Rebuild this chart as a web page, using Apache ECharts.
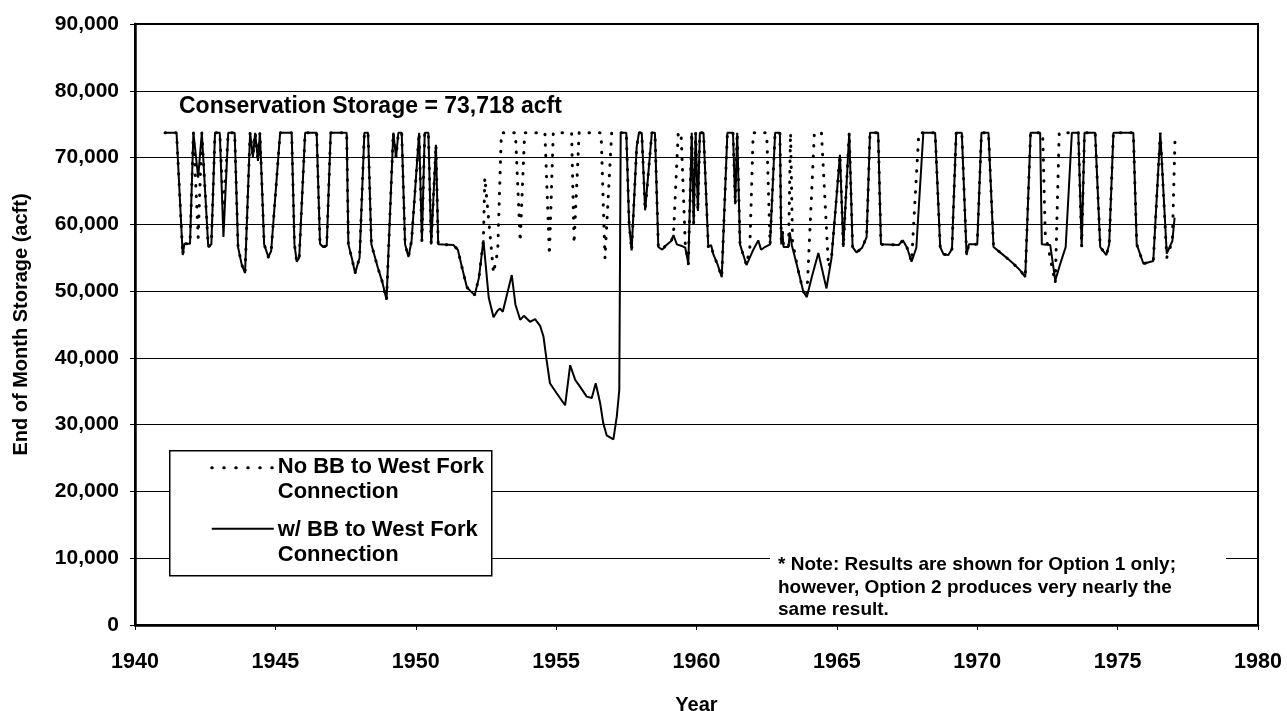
<!DOCTYPE html>
<html>
<head>
<meta charset="utf-8">
<title>End of Month Storage</title>
<script src="https://cdn.jsdelivr.net/npm/echarts@6/dist/echarts.min.js"></script>
<style>
  html, body { margin: 0; padding: 0; background: #fff; }
  #storage-chart { width: 1287px; height: 711px; }
</style>
</head>
<body>
<div id="storage-chart"></div>
<script>
// conservation storage
var CONS = 73718;

var seriesNames = ['No BB to West Fork\nConnection', 'w/ BB to West Fork\nConnection'];
var yTicks = [0, 10000, 20000, 30000, 40000, 50000, 60000, 70000, 80000, 90000];
var xTicks = [1940, 1945, 1950, 1955, 1960, 1965, 1970, 1975, 1980];
var consLabel = 'Conservation Storage = 73,718 acft';
var noteLines = [
  '* Note: Results are shown for Option 1 only;',
  'however, Option 2 produces very nearly the',
  'same result.'
];

// w/ BB to West Fork (solid)  [year, acft]
var withBB = [
  [1941.07, CONS], [1941.48, CONS], [1941.70, 55400], [1941.76, 57100], [1941.96, 57100],
  [1942.08, CONS], [1942.25, 67000], [1942.38, CONS], [1942.45, CONS], [1942.61, 56600],
  [1942.72, 57000], [1942.85, CONS], [1943.02, CONS], [1943.15, 58100], [1943.32, CONS],
  [1943.55, CONS], [1943.67, 56600], [1943.80, 54000], [1943.92, 52700], [1944.10, CONS],
  [1944.20, 70100], [1944.28, CONS], [1944.38, 69500], [1944.45, CONS], [1944.60, 57000],
  [1944.75, 55100], [1944.85, 56000], [1945.17, CONS], [1945.58, CONS], [1945.68, 57000],
  [1945.76, 54400], [1945.85, 55000], [1946.06, CONS], [1946.47, CONS], [1946.59, 57100],
  [1946.70, 56600], [1946.83, 56800], [1946.97, CONS], [1947.54, CONS], [1947.60, 57000],
  [1947.72, 55000], [1947.84, 52700], [1948.00, 55000], [1948.17, CONS], [1948.30, CONS],
  [1948.42, 57000], [1948.65, 53500], [1948.80, 51500], [1948.96, 48700], [1949.20, CONS],
  [1949.30, 70000], [1949.38, CONS], [1949.50, CONS], [1949.62, 57000], [1949.74, 55100],
  [1949.85, 57500], [1950.12, CONS], [1950.22, 57500], [1950.32, CONS], [1950.45, CONS],
  [1950.55, 57000], [1950.72, 71900], [1950.80, 57000], [1950.87, 56900], [1951.34, 56900],
  [1951.50, 56200], [1951.65, 53500], [1951.82, 50600], [1951.95, 50000], [1952.10, 49400],
  [1952.25, 52000], [1952.41, 57600], [1952.60, 49000], [1952.77, 46100], [1952.90, 47000],
  [1953.00, 47400], [1953.10, 46900], [1953.42, 52400], [1953.55, 48000], [1953.72, 45700],
  [1953.85, 46300], [1954.07, 45400], [1954.25, 45800], [1954.43, 44800], [1954.55, 43200],
  [1954.66, 39700], [1954.78, 36200], [1955.02, 34700], [1955.32, 32900], [1955.50, 38900],
  [1955.68, 36700], [1955.85, 35700], [1956.09, 34200], [1956.27, 34000], [1956.41, 36200],
  [1956.57, 33200], [1956.68, 30200], [1956.80, 28400], [1957.04, 27800], [1957.16, 31200],
  [1957.25, 35200], [1957.30, CONS], [1957.50, CONS], [1957.60, 60000], [1957.69, 56100],
  [1957.87, 71600], [1957.95, CONS], [1958.05, CONS], [1958.17, 62100], [1958.41, CONS],
  [1958.52, CONS], [1958.64, 56600], [1958.78, 56200], [1958.90, 56800], [1959.10, 57500],
  [1959.18, 58400], [1959.30, 57000], [1959.45, 56800], [1959.60, 56500], [1959.71, 54100],
  [1959.83, CONS], [1959.90, 60000], [1959.97, CONS], [1960.05, 62000], [1960.12, CONS],
  [1960.25, CONS], [1960.42, 56600], [1960.52, 56900], [1960.60, 55500], [1960.75, 54000],
  [1960.90, 52100], [1961.10, CONS], [1961.30, CONS], [1961.38, 63000], [1961.45, CONS],
  [1961.55, 57000], [1961.78, 53900], [1962.00, 56000], [1962.20, 57600], [1962.30, 56200],
  [1962.40, 56500], [1962.62, 57000], [1962.80, CONS], [1962.97, CONS], [1963.02, 57000],
  [1963.06, 59000], [1963.10, 56600], [1963.28, 56600], [1963.32, 58800], [1963.40, 56800],
  [1963.60, 53500], [1963.80, 50000], [1963.93, 49100], [1964.10, 52000], [1964.34, 55700],
  [1964.63, 50400], [1964.81, 55000], [1965.11, 70400], [1965.23, 56600], [1965.44, CONS],
  [1965.56, 56600], [1965.70, 55800], [1965.90, 56500], [1966.06, 58100], [1966.18, CONS],
  [1966.47, CONS], [1966.57, 57000], [1967.20, 56900], [1967.35, 57600], [1967.50, 56500],
  [1967.66, 54400], [1967.83, 56500], [1968.08, CONS], [1968.50, CONS], [1968.68, 56600],
  [1968.80, 55500], [1968.97, 55400], [1969.10, 56300], [1969.25, CONS], [1969.45, CONS],
  [1969.62, 55400], [1969.70, 57000], [1970.00, 57000], [1970.15, CONS], [1970.40, CONS],
  [1970.58, 56600], [1970.90, 55500], [1971.10, 54800], [1971.29, 54100], [1971.53, 53100],
  [1971.71, 52100], [1971.90, CONS], [1972.24, CONS], [1972.30, 57000], [1972.60, 56900],
  [1972.78, 51600], [1972.95, 54000], [1973.15, 56600], [1973.37, CONS], [1973.60, CONS],
  [1973.72, 56600], [1973.82, CONS], [1974.20, CONS], [1974.38, 56600], [1974.60, 55400],
  [1974.70, 57000], [1974.85, CONS], [1975.56, CONS], [1975.68, 57000], [1975.92, 54100],
  [1976.27, 54500], [1976.52, CONS], [1976.75, 55600], [1976.95, 57500], [1977.03, 61000]
];

// No BB to West Fork (dotted)  [year, acft]
var noBB = [
  [1941.07, CONS], [1941.48, CONS], [1941.70, 55400], [1941.76, 57100], [1941.96, 57100],
  [1942.08, CONS], [1942.25, 58000], [1942.38, CONS], [1942.45, CONS], [1942.61, 56600],
  [1942.72, 57000], [1942.85, CONS], [1943.02, CONS], [1943.15, 61700], [1943.32, CONS],
  [1943.55, CONS], [1943.67, 56600], [1943.80, 54000], [1943.92, 52700], [1944.10, CONS],
  [1944.20, 70100], [1944.28, CONS], [1944.38, 69500], [1944.45, CONS], [1944.60, 57000],
  [1944.75, 55100], [1944.85, 56000], [1945.17, CONS], [1945.58, CONS], [1945.68, 57000],
  [1945.76, 54400], [1945.85, 55000], [1946.06, CONS], [1946.47, CONS], [1946.59, 57100],
  [1946.70, 56600], [1946.83, 56800], [1946.97, CONS], [1947.54, CONS], [1947.60, 57000],
  [1947.72, 55000], [1947.84, 52700], [1948.00, 55000], [1948.17, CONS], [1948.30, CONS],
  [1948.42, 57000], [1948.65, 53500], [1948.80, 51500], [1948.96, 48700], [1949.20, CONS],
  [1949.30, 70000], [1949.38, CONS], [1949.50, CONS], [1949.62, 57000], [1949.74, 55100],
  [1949.85, 57500], [1950.12, CONS], [1950.22, 57500], [1950.32, CONS], [1950.45, CONS],
  [1950.55, 57000], [1950.72, 71900], [1950.80, 57000], [1950.87, 56900], [1951.34, 56900],
  [1951.50, 56200], [1951.65, 53500], [1951.82, 50600], [1951.95, 50000], [1952.10, 49400],
  [1952.25, 52000], [1952.41, 57600], [1952.46, 67000], [1952.77, 52700], [1952.92, 56000],
  [1953.05, CONS], [1953.55, CONS], [1953.72, 57400], [1953.88, CONS], [1954.60, CONS],
  [1954.76, 55400], [1954.90, CONS], [1955.55, CONS], [1955.64, 57100], [1955.82, CONS],
  [1956.60, CONS], [1956.74, 54900], [1956.98, CONS], [1957.50, CONS], [1957.60, 60000],
  [1957.69, 56100], [1957.87, 71600], [1957.95, CONS], [1958.05, CONS], [1958.17, 62100],
  [1958.41, CONS], [1958.52, CONS], [1958.64, 56600], [1958.78, 56200], [1958.90, 56800],
  [1959.10, 57500], [1959.18, 58400], [1959.35, CONS], [1959.45, CONS], [1959.60, 57000],
  [1959.71, 54100], [1959.83, CONS], [1959.90, 60000], [1959.97, CONS], [1960.05, 62000],
  [1960.12, CONS], [1960.25, CONS], [1960.42, 56600], [1960.52, 56900], [1960.60, 55500],
  [1960.75, 54000], [1960.90, 52100], [1961.10, CONS], [1961.30, CONS], [1961.38, 63000],
  [1961.45, CONS], [1961.55, 57000], [1961.78, 53900], [1961.90, 56500], [1962.02, CONS],
  [1962.50, CONS], [1962.62, 57000], [1962.80, CONS], [1962.97, CONS], [1963.02, 57000],
  [1963.06, 59000], [1963.10, 56600], [1963.28, 56600], [1963.35, CONS], [1963.42, 57500],
  [1963.60, 53500], [1963.80, 50000], [1963.93, 49100], [1964.20, CONS], [1964.45, CONS],
  [1964.70, 53600], [1964.81, 55000], [1965.11, 70400], [1965.23, 56600], [1965.44, CONS],
  [1965.56, 56600], [1965.70, 55800], [1965.90, 56500], [1966.06, 58100], [1966.18, CONS],
  [1966.47, CONS], [1966.57, 57000], [1967.20, 56900], [1967.35, 57600], [1967.50, 56500],
  [1967.66, 54400], [1967.92, CONS], [1968.50, CONS], [1968.68, 56600], [1968.80, 55500],
  [1968.97, 55400], [1969.10, 56300], [1969.25, CONS], [1969.45, CONS], [1969.62, 55400],
  [1969.70, 57000], [1970.00, 57000], [1970.15, CONS], [1970.40, CONS], [1970.58, 56600],
  [1970.90, 55500], [1971.10, 54800], [1971.29, 54100], [1971.53, 53100], [1971.71, 52100],
  [1971.90, CONS], [1972.33, CONS], [1972.42, 58700], [1972.78, 51200], [1972.92, CONS],
  [1973.60, CONS], [1973.72, 56600], [1973.82, CONS], [1974.20, CONS], [1974.38, 56600],
  [1974.60, 55400], [1974.70, 57000], [1974.85, CONS], [1975.56, CONS], [1975.68, 57000],
  [1975.92, 54100], [1976.27, 54500], [1976.52, CONS], [1976.75, 55000], [1976.95, 57500],
  [1977.05, CONS]
];

var FONT = "'Liberation Sans', Arial, sans-serif";

function fmtThousands(v) {
  return String(v).replace(/\B(?=(\d{3})+(?!\d))/g, ',');
}

var storageChart = echarts.init(document.getElementById('storage-chart'));

var option = {
  animation: false,
  backgroundColor: '#fff',
  textStyle: { fontFamily: FONT, color: '#000' },
  grid: {
    left: 135,
    right: 29,
    top: 24,
    bottom: 86,
    outerBoundsMode: 'none',   // keep plot box fixed (v6)
    show: true,
    borderColor: '#000',
    borderWidth: 2,
    backgroundColor: 'transparent'
  },
  xAxis: {
    type: 'value',
    min: xTicks[0],
    max: xTicks[xTicks.length - 1],
    interval: 5,
    name: 'Year',
    nameLocation: 'middle',
    nameGap: 70,
    nameTextStyle: { fontFamily: FONT, fontWeight: 'bold', fontSize: 20, color: '#000' },
    axisLine: { show: true, lineStyle: { color: '#000', width: 2.5 } },
    axisTick: { show: true, inside: false, length: 5, lineStyle: { color: '#000', width: 1 } },
    axisLabel: {
      margin: 26,
      fontFamily: FONT, fontWeight: 'bold', fontSize: 21.5, color: '#000',
      formatter: function (v) { return String(v); }
    },
    splitLine: { show: false }
  },
  yAxis: {
    type: 'value',
    min: yTicks[0],
    max: yTicks[yTicks.length - 1],
    interval: 10000,
    name: 'End of Month Storage (acft)',
    nameLocation: 'middle',
    nameGap: 104,
    nameTextStyle: { fontFamily: FONT, fontWeight: 'bold', fontSize: 20, color: '#000' },
    axisLine: { show: true, lineStyle: { color: '#000', width: 2.5 } },
    axisTick: { show: true, inside: false, length: 5, lineStyle: { color: '#000', width: 1 } },
    axisLabel: {
      margin: 16,
      fontFamily: FONT, fontWeight: 'bold', fontSize: 21, color: '#000',
      formatter: function (v) { return fmtThousands(v); }
    },
    splitLine: { show: true, lineStyle: { color: '#000', width: 1.2 } }
  },
  series: [
    {
      name: seriesNames[0],
      type: 'line',
      data: noBB,
      showSymbol: false,
      symbol: 'none',
      lineStyle: { color: '#000', width: 3, type: [0.5, 10], cap: 'round' },
      z: 3
    },
    {
      name: seriesNames[1],
      type: 'line',
      data: withBB,
      showSymbol: false,
      symbol: 'none',
      lineStyle: { color: '#000', width: 2 },
      z: 4
    }
  ],
  graphic: [
    // conservation storage label
    {
      type: 'text',
      left: 179, top: 95, z: 100, zlevel: 1,
      style: { text: consLabel, font: 'bold 23px ' + FONT, fill: '#000' }
    },
    // legend box
    {
      type: 'group', left: 169, top: 450, z: 100, zlevel: 1,
      children: [
        { type: 'rect', z: 100, zlevel: 1, shape: { x: 0, y: 0, width: 322, height: 125 },
          style: { fill: '#fff', stroke: '#000', lineWidth: 1.5 } },
        { type: 'line', z: 101, zlevel: 1, shape: { x1: 42, y1: 17, x2: 104, y2: 17 },
          style: { stroke: '#000', lineWidth: 3, lineDash: [0.5, 11.5], lineCap: 'round' } },
        { type: 'text', z: 101, zlevel: 1, x: 108, y: 4,
          style: { text: seriesNames[0], font: 'bold 22px ' + FONT, fill: '#000', lineHeight: 25 } },
        { type: 'line', z: 101, zlevel: 1, shape: { x1: 42, y1: 78, x2: 104, y2: 78 },
          style: { stroke: '#000', lineWidth: 2 } },
        { type: 'text', z: 101, zlevel: 1, x: 108, y: 67,
          style: { text: seriesNames[1], font: 'bold 22px ' + FONT, fill: '#000', lineHeight: 25 } }
      ]
    },
    // note
    {
      type: 'group', left: 770, top: 551, z: 100, zlevel: 1,
      children: [
        { type: 'rect', z: 100, zlevel: 1, shape: { x: 0, y: 0, width: 456, height: 70 },
          style: { fill: '#fff', stroke: null } },
        { type: 'text', z: 101, zlevel: 1, x: 8, y: 3,
          style: { text: noteLines.join('\n'), font: 'bold 19px ' + FONT, fill: '#000', lineHeight: 22.5 } }
      ]
    }
  ]
};

storageChart.setOption(option);
</script>
</body>
</html>
